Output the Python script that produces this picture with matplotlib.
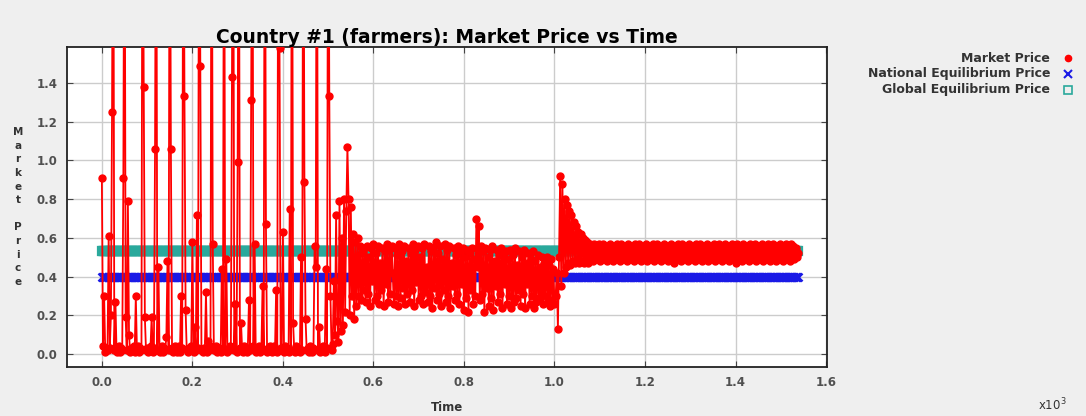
import numpy as np
import matplotlib.pyplot as plt
from matplotlib.lines import Line2D

tiempo = np.arange(0, 1540, 2.5)

precio_fase1 = [0.91, 0.04, 0.30, 0.01, 0.03, 0.02, 0.61, 0.03, 0.20, 1.25,
                3.00, 0.02, 0.27, 0.01, 0.02, 0.04, 0.01, 0.03, 0.02, 0.91,
                3.00, 0.19, 0.02, 0.79, 0.10, 0.01, 0.03, 0.02, 0.04, 0.01,
                0.30, 0.02, 0.04, 0.01, 0.03, 0.02, 3.00, 1.38, 0.19, 0.02,
                0.03, 0.01, 0.02, 0.04, 0.19, 0.01, 0.03, 1.06, 3.00, 0.02,
                0.45, 0.01, 0.02, 0.04, 0.01, 0.03, 0.02, 0.09, 0.48, 0.02,
                3.00, 1.06, 0.03, 0.01, 0.02, 0.04, 0.01, 0.02, 0.04, 0.01,
                0.30, 0.03, 3.00, 1.33, 0.23, 0.02, 0.01, 0.03, 0.02, 0.04,
                0.58, 0.01, 0.14, 0.02, 0.72, 0.03, 3.00, 1.49, 0.02, 0.01,
                0.03, 0.02, 0.32, 0.01, 0.07, 0.02, 0.04, 3.00, 0.57, 0.02,
                0.02, 0.04, 0.01, 0.03, 0.02, 0.01, 0.44, 0.03, 3.00, 0.02,
                0.49, 0.01, 0.02, 0.04, 0.03, 1.43, 3.00, 0.02, 0.26, 0.01,
                0.99, 3.00, 0.03, 0.16, 0.02, 0.01, 0.04, 0.02, 0.01, 0.03,
                0.28, 0.02, 1.31, 3.00, 0.04, 0.57, 0.01, 0.03, 0.02, 0.04,
                0.01, 0.03, 0.35, 0.02, 3.00, 0.67, 0.01, 0.03, 0.02, 0.04,
                0.01, 0.03, 0.04, 0.02, 0.33, 0.01, 3.00, 1.58, 0.03, 0.02,
                0.63, 0.01, 0.04, 0.02, 0.03, 0.01, 0.75, 0.02, 3.00, 0.16,
                0.02, 0.01, 0.04, 0.03, 0.02, 0.01, 0.50, 0.02, 3.00, 0.89,
                0.18, 0.02, 0.03, 0.01, 0.04, 0.02, 0.01, 0.03, 0.56, 0.45,
                3.00, 0.02, 0.14, 0.01, 0.03, 0.04, 0.02, 0.01, 0.44, 0.03,
                3.00]

precio_fase2 = [1.33, 0.30, 0.02, 0.05, 0.38, 0.10, 0.72, 0.17, 0.06, 0.79,
                0.12, 0.60, 0.15, 0.80, 0.22, 0.74, 1.07, 0.80, 0.20, 0.76,
                0.30, 0.62, 0.18, 0.58, 0.25, 0.60, 0.30, 0.56, 0.28, 0.52,
                0.33, 0.55,
                0.27, 0.56, 0.31, 0.50, 0.25, 0.55, 0.38, 0.57, 0.28, 0.52,
                0.30, 0.56, 0.26, 0.47, 0.33, 0.55, 0.25, 0.53, 0.36, 0.57,
                0.27, 0.54, 0.31, 0.56, 0.42, 0.26, 0.55, 0.30, 0.51, 0.25,
                0.57, 0.29, 0.53, 0.34, 0.56, 0.26, 0.48, 0.31, 0.55, 0.27,
                0.52, 0.33, 0.57, 0.25, 0.54, 0.37, 0.56, 0.28, 0.50, 0.30,
                0.55, 0.26, 0.57, 0.32, 0.45, 0.27, 0.56, 0.30, 0.53, 0.24,
                0.55, 0.34, 0.58, 0.28, 0.52, 0.31, 0.56, 0.25, 0.49, 0.33,
                0.57, 0.27, 0.54, 0.30, 0.56, 0.24, 0.47, 0.35, 0.55, 0.28,
                0.51, 0.31, 0.56, 0.26, 0.53, 0.36, 0.55, 0.23, 0.50, 0.29,
                0.54, 0.22, 0.52, 0.33, 0.55, 0.26, 0.49, 0.30, 0.70, 0.45,
                0.66, 0.28, 0.56, 0.31, 0.53, 0.22, 0.55, 0.34, 0.50, 0.25,
                0.54, 0.29, 0.56, 0.23, 0.48, 0.35, 0.54, 0.27, 0.51, 0.31,
                0.55, 0.24, 0.52, 0.36, 0.53, 0.26, 0.49, 0.30, 0.54, 0.24,
                0.51, 0.27, 0.55, 0.29, 0.46, 0.33, 0.53, 0.25, 0.50, 0.31,
                0.54, 0.24, 0.47, 0.36, 0.52, 0.26, 0.49, 0.30, 0.53, 0.24,
                0.48, 0.27, 0.51, 0.29, 0.45, 0.32, 0.50, 0.26, 0.47, 0.30,
                0.50, 0.27, 0.46, 0.25, 0.49, 0.28, 0.44, 0.26]

precio_fase3 = [0.30, 0.42, 0.13, 0.50, 0.92, 0.35, 0.88, 0.42, 0.80, 0.45,
                0.77, 0.47, 0.74, 0.46, 0.72, 0.48, 0.68, 0.47, 0.66, 0.49,
                0.63, 0.47, 0.62, 0.48, 0.60, 0.47, 0.59, 0.48, 0.58, 0.47,
                0.57,
                0.49, 0.56, 0.48, 0.57, 0.50, 0.55, 0.49, 0.57, 0.48, 0.56,
                0.50, 0.57, 0.49, 0.55, 0.48, 0.56, 0.50, 0.57, 0.49, 0.56,
                0.48, 0.55, 0.50, 0.57, 0.49, 0.56, 0.48, 0.57, 0.50, 0.55,
                0.49, 0.56, 0.48, 0.57, 0.50, 0.56, 0.49, 0.55, 0.48, 0.57,
                0.50, 0.56, 0.49, 0.57, 0.48, 0.55, 0.50, 0.56, 0.49, 0.57,
                0.48, 0.56, 0.50, 0.55, 0.49, 0.57, 0.48, 0.56, 0.50, 0.57,
                0.49, 0.55, 0.48, 0.56, 0.50, 0.57, 0.49, 0.56, 0.48, 0.55,
                0.50, 0.57, 0.49, 0.56, 0.47, 0.55, 0.50, 0.57, 0.49, 0.56,
                0.48, 0.57, 0.50, 0.55, 0.49, 0.56, 0.48, 0.57, 0.50, 0.56,
                0.49, 0.55, 0.48, 0.57, 0.50, 0.56, 0.49, 0.57, 0.48, 0.55,
                0.50, 0.56, 0.49, 0.57, 0.48, 0.56, 0.50, 0.55, 0.49, 0.57,
                0.48, 0.56, 0.50, 0.57, 0.49, 0.55, 0.48, 0.56, 0.50, 0.57,
                0.49, 0.56, 0.48, 0.55, 0.50, 0.57, 0.49, 0.56, 0.47, 0.57,
                0.50, 0.55, 0.49, 0.56, 0.48, 0.57, 0.50, 0.56, 0.49, 0.55,
                0.48, 0.57, 0.50, 0.56, 0.49, 0.57, 0.48, 0.55, 0.50, 0.56,
                0.49, 0.57, 0.48, 0.56, 0.50, 0.55, 0.49, 0.57, 0.48, 0.56,
                0.50, 0.57, 0.49, 0.55, 0.48, 0.56, 0.50, 0.57, 0.49, 0.56,
                0.48, 0.55, 0.50, 0.57, 0.49, 0.56, 0.48, 0.57, 0.50, 0.56,
                0.49, 0.55, 0.50, 0.52]

precio = np.array(precio_fase1 + precio_fase2 + precio_fase3)

eq_nacional = 0.40
eq_global = 0.53

xticks = [0, 200, 400, 600, 800, 1000, 1200, 1400, 1600]
xticklabels = ['0.0', '0.2', '0.4', '0.6', '0.8', '1.0', '1.2', '1.4', '1.6']
yticks = [0.0, 0.2, 0.4, 0.6, 0.8, 1.0, 1.2, 1.4]
yticklabels = ['0.0', '0.2', '0.4', '0.6', '0.8', '1.0', '1.2', '1.4']

series = ['Market Price', 'National Equilibrium Price', 'Global Equilibrium Price']

# Figura
gris = '#505050'
fig = plt.figure(figsize=(10.86, 4.16), dpi=100, facecolor='#efefef')
ax = fig.add_axes([0.0617, 0.1185, 0.6998, 0.7692])
ax.set_facecolor('white')

ax.plot(tiempo, np.full(len(tiempo), eq_global), linestyle='none', marker='s',
        ms=5.5, mfc='none', mec='#2aa99c', mew=1.6, zorder=2)
ax.plot(tiempo, np.full(len(tiempo), eq_nacional), linestyle='none', marker='x',
        ms=5.5, mec='#1a1ae6', mew=1.8, zorder=2)
ax.plot(tiempo, precio, '-', color='red', lw=1.3, marker='o', ms=5,
        mfc='red', mec='red', zorder=3)

ax.set_xlim(-77, 1602)
ax.set_ylim(-0.065, 1.587)
ax.set_xticks(xticks)
ax.set_xticklabels(xticklabels)
ax.set_yticks(yticks)
ax.set_yticklabels(yticklabels)
ax.grid(True, color='#cccccc', lw=1)
ax.set_axisbelow(True)
ax.tick_params(direction='in', top=True, right=True, length=4, color='#444444',
               labelsize=8.5, labelcolor=gris, pad=7)
for lab in ax.get_xticklabels() + ax.get_yticklabels():
    lab.set_fontweight('bold')
for s in ax.spines.values():
    s.set_color('#222222')
    s.set_linewidth(1.3)

ax.set_title('Country #1 (farmers): Market Price vs Time', fontsize=13.5,
             fontweight='bold', pad=3)
ax.set_xlabel('Time', fontsize=8.5, fontweight='bold', color='#333333', labelpad=8)

fig.text(18 / 1086, 1 - 207 / 416, '\n'.join('Market Price'), ha='center',
         va='center', fontsize=7.5, fontweight='bold', color='#333333',
         linespacing=1.45)
fig.text(1052 / 1086, 1 - 405 / 416, r'x10$^3$', ha='center', va='center',
         fontsize=8.5, color='#333333')

# Leyenda
ys = [58, 74, 90]
estilos = [dict(marker='o', ms=4.5, mfc='red', mec='red'),
           dict(marker='x', ms=6, mec='#1a1ae6', mew=1.5),
           dict(marker='s', ms=6, mfc='none', mec='#2aa99c', mew=1.2)]
for nombre, y, est in zip(series, ys, estilos):
    fig.text(1050 / 1086, 1 - y / 416, nombre, ha='right', va='center',
             fontsize=9, fontweight='bold', color='#333333')
    fig.add_artist(Line2D([1068 / 1086], [1 - y / 416], linestyle='none',
                          transform=fig.transFigure, **est))

fig.savefig('out.png', dpi=100, facecolor=fig.get_facecolor())
